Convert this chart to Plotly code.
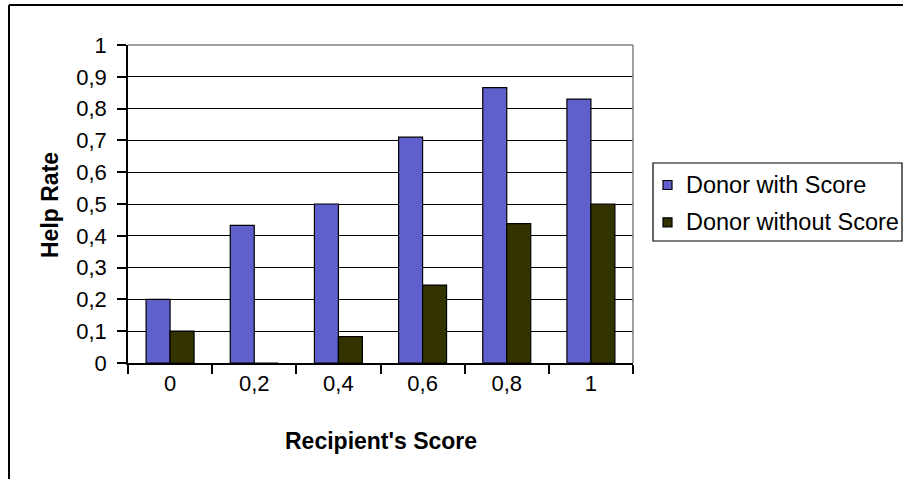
import plotly.graph_objects as go

# Recipient's score categories and help rates for each donor group
categories = ["0", "0,2", "0,4", "0,6", "0,8", "1"]
with_score = [0.20, 0.433, 0.50, 0.71, 0.866, 0.83]
without_score = [0.10, 0.0, 0.083, 0.245, 0.438, 0.50]
y_ticks = [0, 0.1, 0.2, 0.3, 0.4, 0.5, 0.6, 0.7, 0.8, 0.9, 1.0]
y_tick_text = ["0", "0,1", "0,2", "0,3", "0,4", "0,5", "0,6", "0,7", "0,8", "0,9", "1"]
series_names = ["Donor with Score", "Donor without Score"]
series_colors = ["#6060CC", "#333300"]

W, H = 903, 479
L, R, T, B = 128, 270, 45, 116
pw, ph = W - L - R, H - T - B


def px_x(px):
    return (px - L) / pw


def px_y(py):
    return (H - B - py) / ph


FONT = "Liberation Sans, Arial, sans-serif"

fig = go.Figure()
for name, vals, color in zip(series_names, [with_score, without_score], series_colors):
    fig.add_trace(go.Bar(
        x=categories, y=vals, name=name,
        marker=dict(color=color, line=dict(color="black", width=1.2)),
    ))

fig.update_layout(
    width=W, height=H,
    margin=dict(l=L, r=R, t=T, b=B, pad=0, autoexpand=False),
    paper_bgcolor="white", plot_bgcolor="white",
    barmode="group", bargap=0.43, bargroupgap=0,
    font=dict(family=FONT, size=22, color="black"),
    showlegend=False,
    xaxis=dict(
        type="category", tickson="boundaries", ticks="outside", ticklen=9,
        tickcolor="black", tickwidth=1.5, showline=True, linecolor="black",
        linewidth=1.5, showgrid=False, tickfont=dict(size=22),
    ),
    yaxis=dict(
        range=[0, 1], tickvals=y_ticks, ticktext=y_tick_text,
        ticks="outside", ticklen=9, tickcolor="black", tickwidth=1.5,
        showline=True, linecolor="black", linewidth=1.5,
        showgrid=True, gridcolor="black", gridwidth=1.2, zeroline=False,
        tickfont=dict(size=22), ticklabelstandoff=6,
    ),
)

# Axis titles
fig.add_annotation(
    text="<b>Recipient's Score</b>", xref="paper", yref="paper",
    x=0.5, y=px_y(441), xanchor="center", yanchor="middle",
    showarrow=False, font=dict(size=23),
)
fig.add_annotation(
    text="<b>Help Rate</b>", xref="paper", yref="paper",
    x=px_x(50), y=px_y(205), xanchor="center", yanchor="middle", textangle=-90,
    showarrow=False, font=dict(size=23),
)

# Legend box with a swatch and label per series
fig.add_shape(type="rect", xref="paper", yref="paper",
              x0=px_x(653), x1=px_x(902), y0=px_y(163), y1=px_y(241),
              line=dict(color="black", width=1.2), fillcolor="white")
for i, (name, color) in enumerate(zip(series_names, series_colors)):
    cy = 185 + i * 37.3
    fig.add_shape(type="rect", xref="paper", yref="paper",
                  x0=px_x(663), x1=px_x(672), y0=px_y(cy - 4.5), y1=px_y(cy + 4.5),
                  line=dict(color="black", width=1.2), fillcolor=color)
    fig.add_annotation(
        text=name, xref="paper", yref="paper",
        x=px_x(684), y=px_y(cy), xanchor="left", yanchor="middle",
        showarrow=False, font=dict(size=23.5),
    )

# Grey plot-area border along the top and right
fig.add_shape(type="line", xref="paper", yref="paper", x0=0, x1=1, y0=1, y1=1,
              line=dict(color="#808080", width=1.5), layer="above")
fig.add_shape(type="line", xref="paper", yref="paper", x0=1, x1=1, y0=0, y1=1,
              line=dict(color="#808080", width=1.5), layer="above")

# Chart frame
fig.add_shape(type="line", xref="paper", yref="paper",
              x0=px_x(9), x1=px_x(9), y0=px_y(5), y1=px_y(479),
              line=dict(color="black", width=2))
fig.add_shape(type="line", xref="paper", yref="paper",
              x0=px_x(9), x1=px_x(903), y0=px_y(5), y1=px_y(5),
              line=dict(color="black", width=2))

fig.write_html("out.html")
